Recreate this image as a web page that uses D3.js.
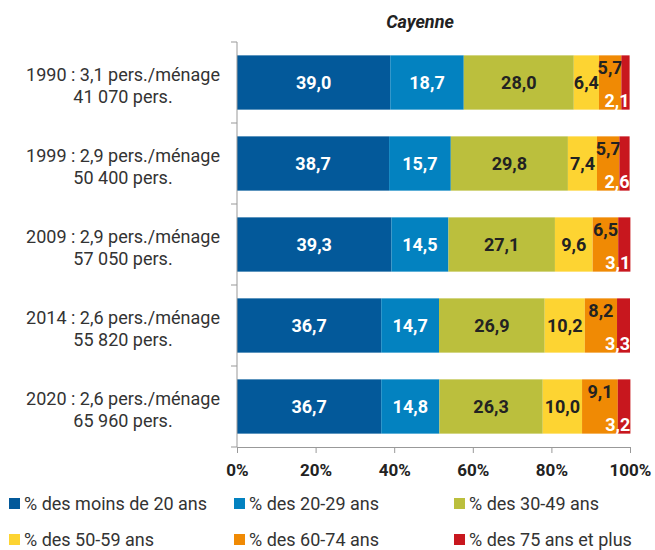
<!DOCTYPE html>
<html><head><meta charset="utf-8">
<script src="https://cdn.jsdelivr.net/npm/d3@7"></script>
<style>body{margin:0;background:#fff;font-family:Roboto,sans-serif}</style>
</head><body><svg id="c" width="655" height="550"></svg>
<script>
const categories = ["1990","1999","2009","2014","2020"];
const labelLine1 = ["1990 : 3,1 pers./ménage","1999 : 2,9 pers./ménage","2009 : 2,9 pers./ménage","2014 : 2,6 pers./ménage","2020 : 2,6 pers./ménage"];
const labelLine2 = ["41 070 pers.","50 400 pers.","57 050 pers.","55 820 pers.","65 960 pers."];
const seriesNames = ["% des moins de 20 ans","% des 20-29 ans","% des 30-49 ans","% des 50-59 ans","% des 60-74 ans","% des 75 ans et plus"];
const moins20 = [39.0,38.7,39.3,36.7,36.7];
const a20_29 = [18.7,15.7,14.5,14.7,14.8];
const a30_49 = [28.0,29.8,27.1,26.9,26.3];
const a50_59 = [6.4,7.4,9.6,10.2,10.0];
const a60_74 = [5.7,5.7,6.5,8.2,9.1];
const a75plus = [2.1,2.6,3.1,3.3,3.2];
const xTicks = [0,20,40,60,80,100];
const colors = ["#03599a","#0382c0","#bbbf3d","#fdd432","#f08a04","#c8171e"];
const title = "Cayenne";

const series = [moins20,a20_29,a30_49,a50_59,a60_74,a75plus];
const fmt = v => v.toFixed(1).replace(".", ",");
const svg = d3.select("#c");
const x = d3.scaleLinear().domain([0,100]).range([237,630]);
const y = d3.scaleBand().domain(categories).range([42,447]).paddingInner(0.33).paddingOuter(0.165);

svg.append("text").attr("x",420).attr("y",28).attr("text-anchor","middle")
  .attr("font-weight","bold").attr("font-style","italic").attr("font-size",18).attr("fill","#222").text(title);

// bars
categories.forEach((c,i)=>{
  let cum=0;
  series.forEach((s,k)=>{
    const v=s[i];
    const x0=x(cum), x1=x(cum+v);
    svg.append("rect").attr("x",x0).attr("y",y(c)).attr("width",x1-x0).attr("height",y.bandwidth()).attr("fill",colors[k]);
    const cy=y(c)+y.bandwidth()/2;
    const t=svg.append("text").attr("font-weight","bold").attr("font-size",18).text(fmt(v));
    if(k<4){
      t.attr("x",(x0+x1)/2).attr("y",cy+6.5).attr("text-anchor","middle").attr("fill",k<2?"#fff":"#222");
    } else if(k===4){
      t.attr("x",(x0+x1)/2).attr("y",cy-9).attr("text-anchor","middle").attr("fill","#222");
    } else {
      t.attr("x",x1).attr("y",cy+24).attr("text-anchor","end").attr("fill","#fff");
    }
    cum+=v;
  });
});

// y axis
const ya=svg.append("g");
ya.append("line").attr("x1",237).attr("x2",237).attr("y1",42).attr("y2",447).attr("stroke","#999");
const bounds=[42].concat(categories.map(c=>y(c)+y.bandwidth()+y.step()*y.paddingInner()/2));
bounds.forEach(b=>ya.append("line").attr("x1",231).attr("x2",237).attr("y1",b).attr("y2",b).attr("stroke","#999"));
categories.forEach((c,i)=>{
  const cy=y(c)+y.bandwidth()/2;
  const t=ya.append("text").attr("text-anchor","middle").attr("font-size",18).attr("fill","#333");
  t.append("tspan").attr("x",123).attr("y",cy-2).text(labelLine1[i]);
  t.append("tspan").attr("x",123).attr("y",cy+20).text(labelLine2[i]);
});

// x axis
const xa=svg.append("g").attr("transform","translate(0,447)")
  .call(d3.axisBottom(x).tickValues(xTicks).tickSize(6).tickFormat(d=>d+"%"));
xa.select(".domain").attr("stroke","#999");
xa.selectAll(".tick line").attr("stroke","#999");
xa.selectAll("text").attr("font-family","Roboto").attr("font-size",17).attr("font-weight","bold").attr("fill","#222").attr("dy","1.15em");

// legend
const lx=[12,237,457], ly=[510,546];
seriesNames.forEach((n,k)=>{
  const gx=lx[k%3], gy=ly[Math.floor(k/3)];
  svg.append("rect").attr("x",gx-3).attr("y",gy-12).attr("width",11).attr("height",11).attr("fill",colors[k]);
  svg.append("text").attr("x",gx+12).attr("y",gy).attr("font-size",18).attr("fill","#333").text(n);
});
</script></body></html>
